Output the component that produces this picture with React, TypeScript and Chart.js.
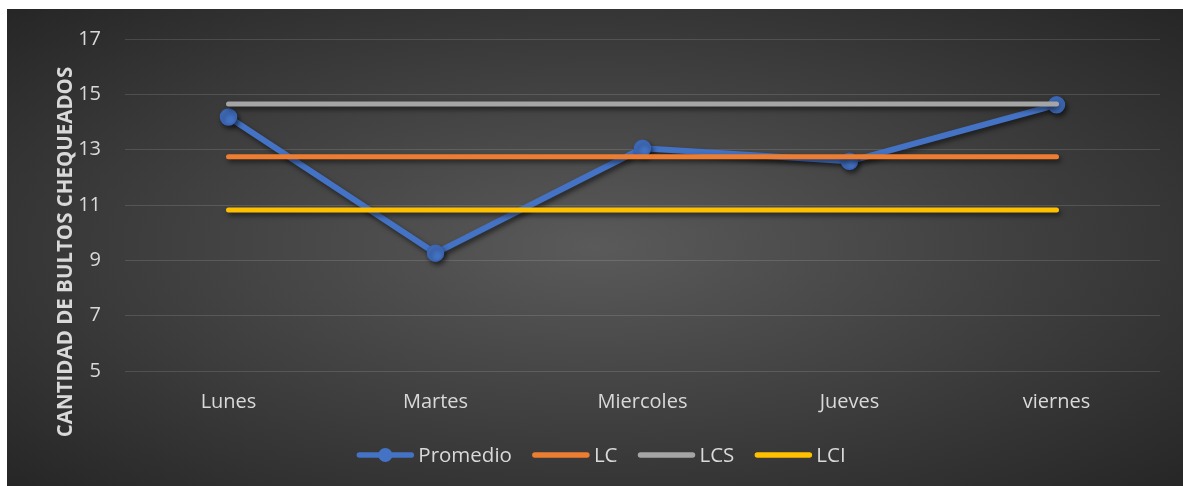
import React, { useEffect, useRef } from "react";
import { Chart, registerables } from "chart.js";

Chart.register(...registerables);

const categories = ["Lunes", "Martes", "Miercoles", "Jueves", "viernes"];
const promedio = [14.18, 9.26, 13.05, 12.58, 14.62];
const lc = [12.74, 12.74, 12.74, 12.74, 12.74];
const lcs = [14.65, 14.65, 14.65, 14.65, 14.65];
const lci = [10.82, 10.82, 10.82, 10.82, 10.82];
const yTicks = [5, 7, 9, 11, 13, 15, 17];
const seriesNames = ["Promedio", "LC", "LCS", "LCI"];
const seriesColors = ["#4472C4", "#ED7D31", "#A5A5A5", "#FFC000"];
const axisTitle = "CANTIDAD DE BULTOS CHEQUEADOS";

const FONT = "'Open Sans', Lato, sans-serif";
const TEXT = "#d9d9d9";

const W = 1176;
const H = 477;

const shadowPlugin = {
  id: "shadow",
  beforeDatasetsDraw(chart: any) {
    const ctx = chart.ctx;
    ctx.save();
    ctx.shadowColor = "rgba(0,0,0,0.55)";
    ctx.shadowBlur = 5;
    ctx.shadowOffsetX = 2;
    ctx.shadowOffsetY = 3;
  },
  afterDatasetsDraw(chart: any) {
    chart.ctx.restore();
  },
};

const extrasPlugin = {
  id: "extras",
  afterDraw(chart: any) {
    const ctx = chart.ctx;
    // axis title
    ctx.save();
    ctx.fillStyle = TEXT;
    ctx.font = `bold 20.5px ${FONT}`;
    ctx.textAlign = "center";
    ctx.textBaseline = "middle";
    ctx.translate(59, 243);
    ctx.rotate(-Math.PI / 2);
    ctx.fillText(axisTitle, 0, 0);
    ctx.restore();

    // legend
    ctx.save();
    ctx.font = `20.5px ${FONT}`;
    const lineLen = 58;
    const gap = 4;
    const spacing = 20;
    const widths = seriesNames.map((n) => lineLen + gap + ctx.measureText(n).width);
    const total = widths.reduce((a, b) => a + b, 0) + spacing * (seriesNames.length - 1);
    let x = 594 - total / 2;
    const y = 446;
    seriesNames.forEach((name, i) => {
      ctx.strokeStyle = seriesColors[i];
      ctx.lineWidth = 5.5;
      ctx.lineCap = "round";
      ctx.beginPath();
      ctx.moveTo(x + 3, y);
      ctx.lineTo(x + lineLen - 3, y);
      ctx.stroke();
      if (i === 0) {
        ctx.fillStyle = seriesColors[0];
        ctx.beginPath();
        ctx.arc(x + lineLen / 2, y, 7, 0, Math.PI * 2);
        ctx.fill();
      }
      ctx.fillStyle = TEXT;
      ctx.textAlign = "left";
      ctx.textBaseline = "middle";
      ctx.fillText(name, x + lineLen + gap, y + 1);
      x += widths[i] + spacing;
    });
    ctx.restore();
  },
};

export default function App() {
  const ref = useRef<HTMLCanvasElement>(null);
  useEffect(() => {
    const canvas = ref.current!;
    const lineDs = (label: string, data: number[], color: string, order: number) => ({
      label,
      data,
      borderColor: color,
      backgroundColor: color,
      borderWidth: 5,
      borderCapStyle: "round",
      pointRadius: 0,
      pointHoverRadius: 0,
      fill: false,
      order,
    });
    const chart = new Chart(canvas, {
      type: "line",
      data: {
        labels: categories,
        datasets: [
          {
            label: seriesNames[0],
            data: promedio,
            borderColor: seriesColors[0],
            backgroundColor: seriesColors[0],
            borderWidth: 6,
            borderCapStyle: "round",
            borderJoinStyle: "round",
            pointRadius: 8,
            pointBorderWidth: 1.5,
            pointBorderColor: "#3a65b5",
            pointBackgroundColor: seriesColors[0],
            fill: false,
            order: 4,
          } as any,
          lineDs(seriesNames[1], lc, seriesColors[1], 3),
          lineDs(seriesNames[2], lcs, seriesColors[2], 2),
          lineDs(seriesNames[3], lci, seriesColors[3], 1),
        ],
      },
      options: {
        responsive: false,
        animation: false,
        events: [],
        layout: { padding: { left: 0, right: 23, top: 30, bottom: 0 } },
        plugins: {
          legend: { display: false },
          tooltip: { enabled: false },
          title: { display: false },
        },
        scales: {
          x: {
            offset: true,
            grid: { display: false, drawTicks: false },
            border: { display: false },
            ticks: { color: TEXT, font: { family: FONT, size: 20 }, padding: 19, maxRotation: 0 },
            afterFit(scale: any) {
              scale.height = 115;
            },
          },
          y: {
            min: 5,
            max: 17,
            grid: { color: "rgba(255,255,255,0.13)", lineWidth: 1, drawTicks: false },
            border: { display: false },
            afterBuildTicks(scale: any) {
              scale.ticks = yTicks.map((v) => ({ value: v }));
            },
            ticks: { color: TEXT, font: { family: FONT, size: 20 }, padding: 24 },
            afterFit(scale: any) {
              scale.width = 118;
              scale.paddingTop = 0;
              scale.paddingBottom = 0;
            },
          },
        },
      } as any,
      plugins: [shadowPlugin, extrasPlugin],
    });
    return () => chart.destroy();
  }, []);

  return (
    <div
      style={{
        position: "absolute",
        left: 7,
        top: 9,
        width: W,
        height: H,
        background: "radial-gradient(ellipse at center, #5a5a5a 0%, #262626 100%)",
      }}
    >
      <canvas ref={ref} width={W} height={H} style={{ display: "block", width: W, height: H }} />
    </div>
  );
}
